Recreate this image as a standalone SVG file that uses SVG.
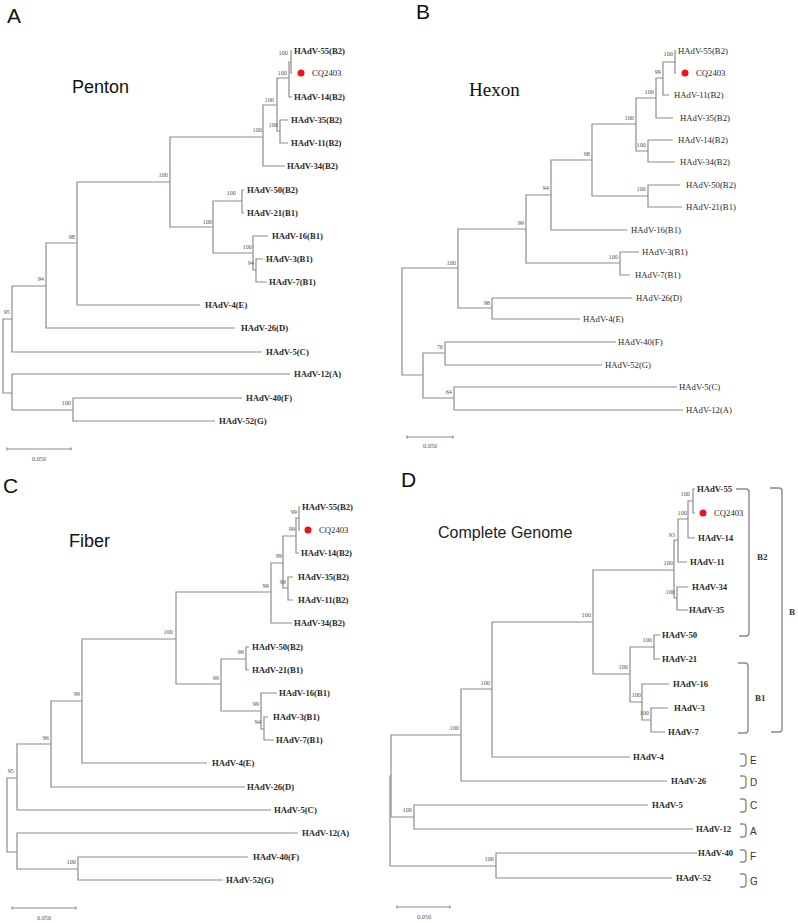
<svg xmlns="http://www.w3.org/2000/svg" width="798" height="923" viewBox="0 0 798 923">
<style>
.bg{fill:#fff}
.br{fill:none;stroke:#8c8c8c;stroke-width:1.2}
.sb{fill:none;stroke:#8c8c8c;stroke-width:1.2}
.bk{fill:none;stroke:#8a8a8a;stroke-width:1.4}
.lf{font-family:"Liberation Serif",serif;font-size:8.7px;font-weight:bold;fill:#2a2a2a}
.lfn{font-family:"Liberation Serif",serif;font-size:8.7px;fill:#2a2a2a}
.cq{font-family:"Liberation Serif",serif;font-size:8.7px;fill:#2a2a2a}
.bs{font-family:"Liberation Serif",serif;font-size:6.3px;fill:#555;text-anchor:end}
.sc{font-family:"Liberation Serif",serif;font-size:6.3px;fill:#555;text-anchor:middle}
.pl{font-family:"Liberation Sans",Arial,sans-serif;font-size:21px;fill:#111}
.ts{font-family:"Liberation Sans",Arial,sans-serif;font-size:18px;fill:#111}
.tr{font-family:"Liberation Serif",serif;font-size:19px;fill:#111}
.tg{font-family:"Liberation Sans",Arial,sans-serif;font-size:16px;fill:#222}
.gl{font-family:"Liberation Sans",Arial,sans-serif;font-size:10px;fill:#333}
.gs{font-family:"Liberation Serif",serif;font-size:9px;font-weight:bold;fill:#333}
.dot{fill:#e8141a}
</style>
<rect class="bg" x="0" y="0" width="798" height="923"/>

<!-- ================= PANEL A ================= -->
<g id="panelA">
<text class="pl" x="7" y="23">A</text>
<text class="ts" x="72" y="93">Penton</text>
<g id="A-connectors">
<path class="br" d="M12,319 H3 V393 H12"/>
<path class="br" d="M46,286 H12 V352 H262"/>
<path class="br" d="M77,243 H46 V328 H235"/>
<path class="br" d="M170,182 H77 V305 H200"/>
<path class="br" d="M263,137 H170 V227 H213"/>
<path class="br" d="M277,105 H263 V166 H285"/>
<path class="br" d="M289,78 H277 V131 H280"/>
<path class="br" d="M291,62 H289 V97 H292"/>
<path class="br" d="M292,51 H291 V73 H292"/>
<path class="br" d="M288,120 H280 V143 H288"/>
<path class="br" d="M242,201 H213 V253 H253"/>
<path class="br" d="M244,190 H242 V213 H244"/>
<path class="br" d="M268,236 H253 V270 H256"/>
<path class="br" d="M263,259 H256 V282 H267"/>
<path class="br" d="M290,374 H12 V410 H73"/>
<path class="br" d="M242,398 H73 V421 H215"/>
</g>
<g id="A-bootstrap">
<text class="bs" x="288" y="55">100</text>
<text class="bs" x="287" y="75">100</text>
<text class="bs" x="274" y="102">100</text>
<text class="bs" x="278" y="127">100</text>
<text class="bs" x="262" y="132">100</text>
<text class="bs" x="168" y="177">100</text>
<text class="bs" x="236" y="195">100</text>
<text class="bs" x="212" y="224">100</text>
<text class="bs" x="252" y="249">100</text>
<text class="bs" x="254" y="265">94</text>
<text class="bs" x="75" y="239">98</text>
<text class="bs" x="44" y="281">94</text>
<text class="bs" x="10" y="314">95</text>
<text class="bs" x="71" y="405">100</text>
</g>
<g id="A-55"><text class="lf" x="294" y="54">HAdV-55(B2)</text></g>
<g id="A-CQ2403"><circle class="dot" cx="301" cy="73" r="3.5"/><text class="cq" x="312" y="76">CQ2403</text></g>
<g id="A-14"><text class="lf" x="294" y="100">HAdV-14(B2)</text></g>
<g id="A-35"><text class="lf" x="291" y="123">HAdV-35(B2)</text></g>
<g id="A-11"><text class="lf" x="291" y="146">HAdV-11(B2)</text></g>
<g id="A-34"><text class="lf" x="287" y="169">HAdV-34(B2)</text></g>
<g id="A-50"><text class="lf" x="247" y="193">HAdV-50(B2)</text></g>
<g id="A-21"><text class="lf" x="247" y="216">HAdV-21(B1)</text></g>
<g id="A-16"><text class="lf" x="272" y="239">HAdV-16(B1)</text></g>
<g id="A-3"><text class="lf" x="266" y="262">HAdV-3(B1)</text></g>
<g id="A-7"><text class="lf" x="269" y="285">HAdV-7(B1)</text></g>
<g id="A-4"><text class="lf" x="205" y="308">HAdV-4(E)</text></g>
<g id="A-26"><text class="lf" x="241" y="331">HAdV-26(D)</text></g>
<g id="A-5"><text class="lf" x="266" y="355">HAdV-5(C)</text></g>
<g id="A-12"><text class="lf" x="294" y="377">HAdV-12(A)</text></g>
<g id="A-40"><text class="lf" x="246" y="401">HAdV-40(F)</text></g>
<g id="A-52"><text class="lf" x="219" y="424">HAdV-52(G)</text></g>
<g id="A-scale"><path class="sb" d="M7,449 H71 M7,447.5 V450.5 M71,447.5 V450.5"/><text class="sc" x="39" y="461">0.050</text></g>
</g>

<!-- ================= PANEL B ================= -->
<g id="panelB">
<text class="pl" x="416" y="19">B</text>
<text class="tr" x="469" y="96">Hexon</text>
<g id="B-connectors">
<path class="br" d="M458,268 H402 V375 H423"/>
<path class="br" d="M526,229 H458 V308 H492"/>
<path class="br" d="M551,195 H526 V263 H620"/>
<path class="br" d="M592,160 H551 V230 H627"/>
<path class="br" d="M636,124 H592 V196 H648"/>
<path class="br" d="M656,98 H636 V151 H648"/>
<path class="br" d="M663,78 H656 V118 H673"/>
<path class="br" d="M675,62 H663 V95 H669"/>
<path class="br" d="M676,51 H675 V73 H676"/>
<path class="br" d="M673,140 H648 V162 H675"/>
<path class="br" d="M680,185 H648 V207 H682"/>
<path class="br" d="M639,252 H620 V275 H630"/>
<path class="br" d="M632,298 H492 V319 H580"/>
<path class="br" d="M445,353 H423 V398 H454"/>
<path class="br" d="M616,342 H445 V365 H602"/>
<path class="br" d="M677,387 H454 V410 H683"/>
</g>
<g id="B-bootstrap">
<text class="bs" x="673" y="56">100</text>
<text class="bs" x="661" y="74">99</text>
<text class="bs" x="654" y="94">100</text>
<text class="bs" x="634" y="120">100</text>
<text class="bs" x="646" y="147">100</text>
<text class="bs" x="646" y="191">100</text>
<text class="bs" x="590" y="156">98</text>
<text class="bs" x="549" y="190">94</text>
<text class="bs" x="524" y="225">99</text>
<text class="bs" x="618" y="259">100</text>
<text class="bs" x="456" y="265">100</text>
<text class="bs" x="490" y="305">98</text>
<text class="bs" x="443" y="349">76</text>
<text class="bs" x="452" y="394">64</text>
</g>
<g id="B-55"><text class="lfn" x="678" y="54">HAdV-55(B2)</text></g>
<g id="B-CQ2403"><circle class="dot" cx="685" cy="73" r="3.5"/><text class="cq" x="696" y="76">CQ2403</text></g>
<g id="B-11"><text class="lfn" x="674" y="98">HAdV-11(B2)</text></g>
<g id="B-35"><text class="lfn" x="680" y="121">HAdV-35(B2)</text></g>
<g id="B-14"><text class="lfn" x="678" y="143">HAdV-14(B2)</text></g>
<g id="B-34"><text class="lfn" x="680" y="165">HAdV-34(B2)</text></g>
<g id="B-50"><text class="lfn" x="686" y="188">HAdV-50(B2)</text></g>
<g id="B-21"><text class="lfn" x="686" y="210">HAdV-21(B1)</text></g>
<g id="B-16"><text class="lfn" x="631" y="233">HAdV-16(B1)</text></g>
<g id="B-3"><text class="lfn" x="642" y="255">HAdV-3(B1)</text></g>
<g id="B-7"><text class="lfn" x="635" y="278">HAdV-7(B1)</text></g>
<g id="B-26"><text class="lfn" x="636" y="301">HAdV-26(D)</text></g>
<g id="B-4"><text class="lfn" x="583" y="322">HAdV-4(E)</text></g>
<g id="B-40"><text class="lfn" x="618" y="345">HAdV-40(F)</text></g>
<g id="B-52"><text class="lfn" x="605" y="368">HAdV-52(G)</text></g>
<g id="B-5"><text class="lfn" x="679" y="390">HAdV-5(C)</text></g>
<g id="B-12"><text class="lfn" x="686" y="413">HAdV-12(A)</text></g>
<g id="B-scale"><path class="sb" d="M407,437 H453 M407,435.5 V438.5 M453,435.5 V438.5"/><text class="sc" x="430" y="448">0.050</text></g>
</g>

<!-- ================= PANEL C ================= -->
<g id="panelC">
<text class="pl" x="3" y="493">C</text>
<text class="ts" x="69" y="547">Fiber</text>
<g id="C-connectors">
<path class="br" d="M17,778 H7 V852 H17"/>
<path class="br" d="M51,744 H17 V810 H271"/>
<path class="br" d="M82,701 H51 V787 H245"/>
<path class="br" d="M176,639 H82 V763 H207"/>
<path class="br" d="M271,592 H176 V684 H221"/>
<path class="br" d="M283,563 H271 V623 H292"/>
<path class="br" d="M296,536 H283 V588 H288"/>
<path class="br" d="M299,518 H296 V553 H299"/>
<path class="br" d="M300,507 H299 V530 H300"/>
<path class="br" d="M293,577 H288 V600 H293"/>
<path class="br" d="M246,659 H221 V711 H261"/>
<path class="br" d="M249,647 H246 V670 H249"/>
<path class="br" d="M277,693 H261 V729 H264"/>
<path class="br" d="M268,717 H264 V740 H274"/>
<path class="br" d="M298,833 H17 V869 H78"/>
<path class="br" d="M248,857 H78 V880 H223"/>
</g>
<g id="C-bootstrap">
<text class="bs" x="297" y="514">99</text>
<text class="bs" x="295" y="531">99</text>
<text class="bs" x="282" y="558">99</text>
<text class="bs" x="286" y="584">99</text>
<text class="bs" x="269" y="588">99</text>
<text class="bs" x="173" y="634">100</text>
<text class="bs" x="244" y="654">99</text>
<text class="bs" x="219" y="680">99</text>
<text class="bs" x="259" y="706">99</text>
<text class="bs" x="261" y="724">94</text>
<text class="bs" x="80" y="696">99</text>
<text class="bs" x="49" y="740">96</text>
<text class="bs" x="14" y="773">95</text>
<text class="bs" x="76" y="864">100</text>
</g>
<g id="C-55"><text class="lf" x="302" y="510">HAdV-55(B2)</text></g>
<g id="C-CQ2403"><circle class="dot" cx="308" cy="530" r="3.5"/><text class="cq" x="319" y="533">CQ2403</text></g>
<g id="C-14"><text class="lf" x="301" y="556">HAdV-14(B2)</text></g>
<g id="C-35"><text class="lf" x="298" y="580">HAdV-35(B2)</text></g>
<g id="C-11"><text class="lf" x="298" y="603">HAdV-11(B2)</text></g>
<g id="C-34"><text class="lf" x="294" y="626">HAdV-34(B2)</text></g>
<g id="C-50"><text class="lf" x="252" y="650">HAdV-50(B2)</text></g>
<g id="C-21"><text class="lf" x="252" y="673">HAdV-21(B1)</text></g>
<g id="C-16"><text class="lf" x="279" y="696">HAdV-16(B1)</text></g>
<g id="C-3"><text class="lf" x="273" y="720">HAdV-3(B1)</text></g>
<g id="C-7"><text class="lf" x="276" y="743">HAdV-7(B1)</text></g>
<g id="C-4"><text class="lf" x="212" y="766">HAdV-4(E)</text></g>
<g id="C-26"><text class="lf" x="247" y="790">HAdV-26(D)</text></g>
<g id="C-5"><text class="lf" x="274" y="813">HAdV-5(C)</text></g>
<g id="C-12"><text class="lf" x="302" y="836">HAdV-12(A)</text></g>
<g id="C-40"><text class="lf" x="253" y="860">HAdV-40(F)</text></g>
<g id="C-52"><text class="lf" x="226" y="883">HAdV-52(G)</text></g>
<g id="C-scale"><path class="sb" d="M12,908 H76 M12,906.5 V909.5 M76,906.5 V909.5"/><text class="sc" x="44" y="920">0.050</text></g>
</g>

<!-- ================= PANEL D ================= -->
<g id="panelD">
<text class="pl" x="401" y="487">D</text>
<text class="tg" x="438" y="538">Complete Genome</text>
<g id="D-connectors">
<path class="br" d="M391,776 H390 V866 H496"/>
<path class="br" d="M461,735 H391 V817 H414"/>
<path class="br" d="M492,689 H461 V781 H667"/>
<path class="br" d="M593,622 H492 V757 H630"/>
<path class="br" d="M674,570 H593 V674 H630"/>
<path class="br" d="M678,540 H674 V598 H677"/>
<path class="br" d="M688,519 H678 V562 H687"/>
<path class="br" d="M693,501 H688 V538 H695"/>
<path class="br" d="M695,489 H693 V513 H695"/>
<path class="br" d="M688,587 H677 V610 H688"/>
<path class="br" d="M654,647 H630 V702 H642"/>
<path class="br" d="M660,635 H654 V659 H660"/>
<path class="br" d="M669,684 H642 V720 H651"/>
<path class="br" d="M668,708 H651 V732 H665"/>
<path class="br" d="M648,805 H414 V829 H693"/>
<path class="br" d="M697,853 H496 V878 H672"/>
</g>
<g id="D-bootstrap">
<text class="bs" x="690" y="496">100</text>
<text class="bs" x="687" y="515">100</text>
<text class="bs" x="675" y="537">93</text>
<text class="bs" x="673" y="565">100</text>
<text class="bs" x="675" y="594">100</text>
<text class="bs" x="591" y="617">100</text>
<text class="bs" x="652" y="642">100</text>
<text class="bs" x="628" y="669">100</text>
<text class="bs" x="641" y="697">100</text>
<text class="bs" x="649" y="715">100</text>
<text class="bs" x="490" y="685">100</text>
<text class="bs" x="459" y="730">100</text>
<text class="bs" x="412" y="812">100</text>
<text class="bs" x="494" y="861">100</text>
</g>
<g id="D-55"><text class="lf" x="697" y="492">HAdV-55</text></g>
<g id="D-CQ2403"><circle class="dot" cx="703" cy="513" r="3.5"/><text class="cq" x="714" y="516">CQ2403</text></g>
<g id="D-14"><text class="lf" x="698" y="541">HAdV-14</text></g>
<g id="D-11"><text class="lf" x="690" y="565">HAdV-11</text></g>
<g id="D-34"><text class="lf" x="692" y="590">HAdV-34</text></g>
<g id="D-35"><text class="lf" x="689" y="613">HAdV-35</text></g>
<g id="D-50"><text class="lf" x="662" y="638">HAdV-50</text></g>
<g id="D-21"><text class="lf" x="662" y="662">HAdV-21</text></g>
<g id="D-16"><text class="lf" x="673" y="687">HAdV-16</text></g>
<g id="D-3"><text class="lf" x="674" y="711">HAdV-3</text></g>
<g id="D-7"><text class="lf" x="668" y="735">HAdV-7</text></g>
<g id="D-4"><text class="lf" x="633" y="760">HAdV-4</text></g>
<g id="D-26"><text class="lf" x="671" y="784">HAdV-26</text></g>
<g id="D-5"><text class="lf" x="652" y="808">HAdV-5</text></g>
<g id="D-12"><text class="lf" x="696" y="832">HAdV-12</text></g>
<g id="D-40"><text class="lf" x="698" y="856">HAdV-40</text></g>
<g id="D-52"><text class="lf" x="676" y="881">HAdV-52</text></g>
<g id="D-scale"><path class="sb" d="M397,907 H450 M397,905.5 V908.5 M450,905.5 V908.5"/><text class="sc" x="424" y="919">0.050</text></g>
<g id="D-groups">
<path class="bk" d="M736,489 H746 Q749,489 749,492 V633 Q749,636 746,636 H739"/>
<text class="gs" x="757" y="560">B2</text>
<path class="bk" d="M770,488 H779 Q782,488 782,491 V729 Q782,732 779,732 H771"/>
<text class="gs" x="789" y="615">B</text>
<path class="bk" d="M738,663 H745 Q748,663 748,666 V730 Q748,733 745,733 H738"/>
<text class="gs" x="755" y="701">B1</text>
<path class="bk" d="M740,754 H743 Q746,754 746,757 V763 Q746,766 743,766 H740"/>
<text class="gl" x="750" y="764">E</text>
<path class="bk" d="M740,776 H743 Q746,776 746,779 V785 Q746,788 743,788 H740"/>
<text class="gl" x="750" y="786">D</text>
<path class="bk" d="M740,799 H743 Q746,799 746,802 V809 Q746,812 743,812 H740"/>
<text class="gl" x="750" y="809">C</text>
<path class="bk" d="M740,824 H743 Q746,824 746,827 V834 Q746,837 743,837 H740"/>
<text class="gl" x="750" y="835">A</text>
<path class="bk" d="M740,850 H743 Q746,850 746,853 V859 Q746,862 743,862 H740"/>
<text class="gl" x="750" y="860">F</text>
<path class="bk" d="M740,874 H743 Q746,874 746,877 V884 Q746,887 743,887 H740"/>
<text class="gl" x="750" y="885">G</text>
</g>
</g>
</svg>
